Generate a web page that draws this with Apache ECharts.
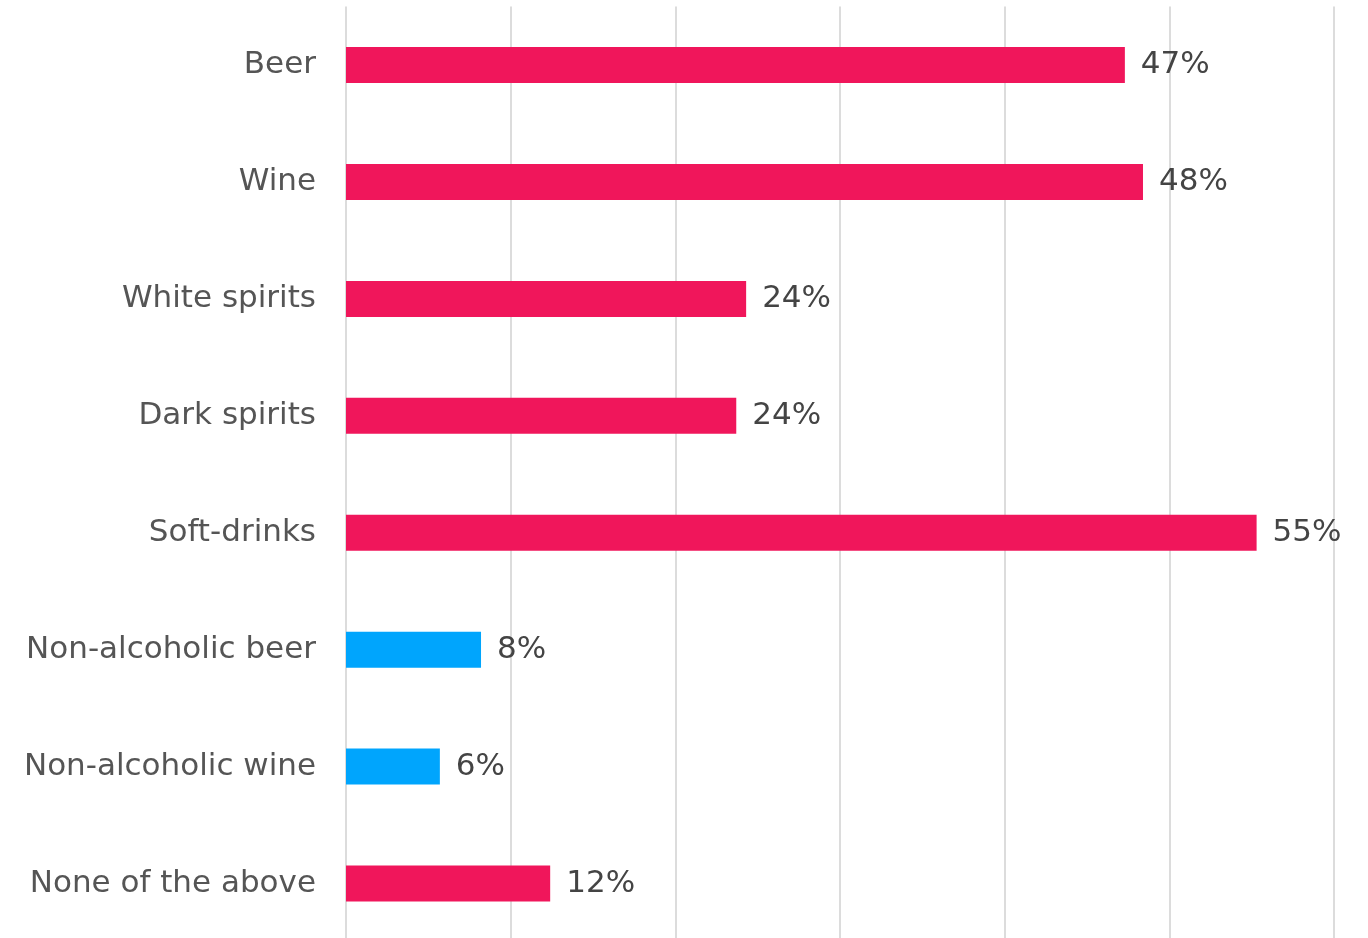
<!DOCTYPE html>
<html>
<head>
<meta charset="utf-8">
<script src="https://cdn.jsdelivr.net/npm/echarts@6/dist/echarts.min.js"></script>
<style>html,body{margin:0;padding:0;background:#fff;overflow:hidden}#c{width:1368px;height:942px}</style>
</head>
<body>
<div id="c"></div>
<script>
const categories = ["Beer","Wine","White spirits","Dark spirits","Soft-drinks","Non-alcoholic beer","Non-alcoholic wine","None of the above"];
const values = [47.3, 48.4, 24.3, 23.7, 55.3, 8.2, 5.7, 12.4];
const labels = ["47%","48%","24%","24%","55%","8%","6%","12%"];
const barColors = ["#f0165b","#f0165b","#f0165b","#f0165b","#f0165b","#00a5fd","#00a5fd","#f0165b"];
const xTicks = [0,10,20,30,40,50,60];

const chart = echarts.init(document.getElementById('c'));
chart.setOption({
  animation: false,
  grid: {left: 346, right: 34, top: 6.6, bottom: 0, containLabel: false},
  xAxis: {
    type: 'value', min: xTicks[0], max: xTicks[xTicks.length-1], interval: 10,
    axisLabel: {show: false}, axisLine: {show: false}, axisTick: {show: false},
    splitLine: {show: true, lineStyle: {color: '#dcdcdc', width: 2}}
  },
  yAxis: {
    type: 'category', data: categories, inverse: true,
    axisLine: {show: false}, axisTick: {show: false},
    axisLabel: {margin: 30, color: '#555', fontSize: 31, fontFamily: 'DejaVu Sans', fontWeight: 'normal'}
  },
  series: [{
    type: 'bar', barWidth: 36,
    data: values.map((v, i) => ({value: v, itemStyle: {color: barColors[i]}})),
    label: {
      show: true, position: 'right', distance: 16, color: '#444', fontSize: 31, fontFamily: 'DejaVu Sans',
      formatter: p => labels[p.dataIndex]
    }
  }]
});
</script>
</body>
</html>
